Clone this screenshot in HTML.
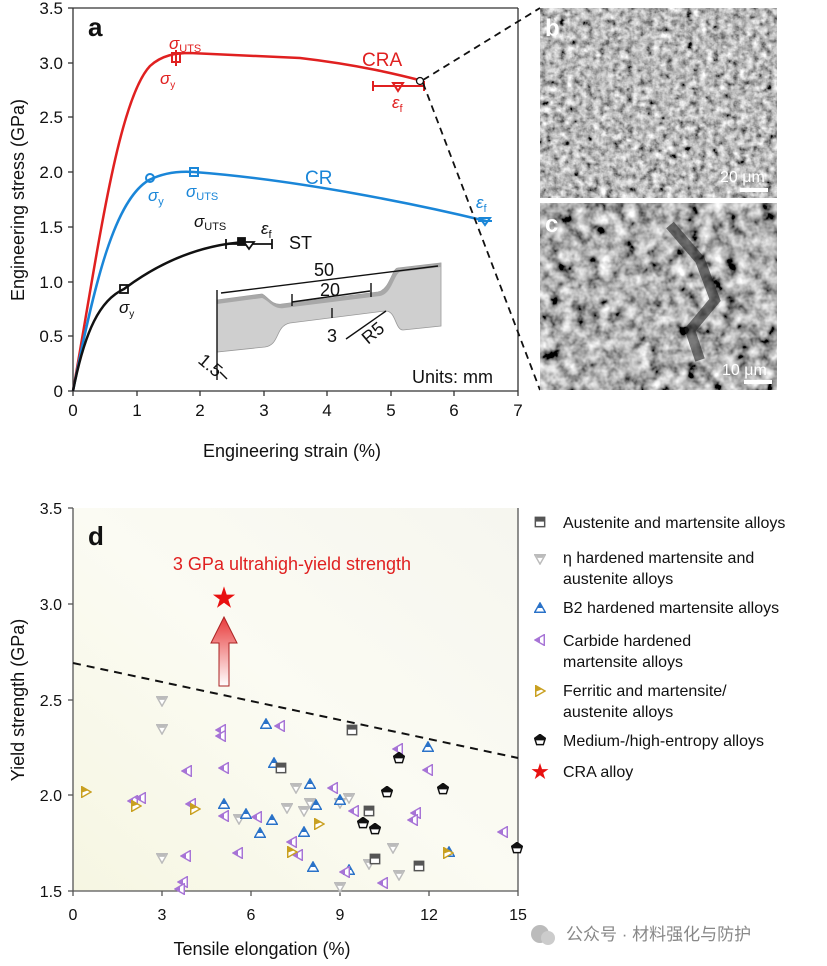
<!DOCTYPE html>
<html><head><meta charset="utf-8"><style>body{margin:0;background:#fff}svg{display:block;font-family:"Liberation Sans","Noto Sans CJK SC",sans-serif}</style></head><body>
<svg width="827" height="966" viewBox="0 0 827 966" xmlns="http://www.w3.org/2000/svg">
<defs>
<filter id="sem1" x="0" y="0" width="100%" height="100%"><feTurbulence type="fractalNoise" baseFrequency="0.15" numOctaves="3" seed="3"/><feColorMatrix type="matrix" values="0.33 0.33 0.33 0 0  0.33 0.33 0.33 0 0  0.33 0.33 0.33 0 0  0 0 0 0 1"/><feComponentTransfer><feFuncR type="linear" slope="2.4" intercept="-0.7"/><feFuncG type="linear" slope="2.4" intercept="-0.7"/><feFuncB type="linear" slope="2.4" intercept="-0.7"/></feComponentTransfer></filter>
<filter id="sem2" x="0" y="0" width="100%" height="100%"><feTurbulence type="fractalNoise" baseFrequency="0.08" numOctaves="3" seed="8"/><feColorMatrix type="matrix" values="0.33 0.33 0.33 0 0  0.33 0.33 0.33 0 0  0.33 0.33 0.33 0 0  0 0 0 0 1"/><feComponentTransfer><feFuncR type="linear" slope="2.8" intercept="-0.95"/><feFuncG type="linear" slope="2.8" intercept="-0.95"/><feFuncB type="linear" slope="2.8" intercept="-0.95"/></feComponentTransfer></filter>
<linearGradient id="bgd" x1="0" y1="1" x2="1" y2="0"><stop offset="0" stop-color="#f6f6e2"/><stop offset="0.5" stop-color="#fbfbf3"/><stop offset="1" stop-color="#f6f6ef"/></linearGradient>
<linearGradient id="arr" x1="0" y1="1" x2="0" y2="0"><stop offset="0" stop-color="#fff"/><stop offset="1" stop-color="#e83a3a"/></linearGradient>
<symbol id="tg" viewBox="-4.5 -4.5 9 9"><path d="M-4,-3.2 L4,-3.2 L0,3.8 Z" fill="#fff" stroke="#bbb" stroke-width="1.1"/><path d="M-3.2,-2.8 L3.2,-2.8 L2,-0.8 L-2,-0.8Z" fill="#bbb"/></symbol>
<symbol id="tb" viewBox="-4.5 -4.5 9 9"><path d="M-4,3.2 L4,3.2 L0,-3.8 Z" fill="#fff" stroke="#2a72c8" stroke-width="1.1"/><path d="M-2.1,0 L2.1,0 L0,-3.4Z" fill="#2a72c8"/></symbol>
<symbol id="tp" viewBox="-4.5 -4.5 9 9"><path d="M3.2,-4 L3.2,4 L-3.8,0 Z" fill="#fff" stroke="#a774d6" stroke-width="1.1"/><path d="M0,-2.3 L0,2.3 L-3.4,0Z" fill="#a774d6"/></symbol>
<symbol id="ty" viewBox="-4.5 -4.5 9 9"><path d="M-3.2,-4 L-3.2,4 L3.8,0 Z" fill="#fff" stroke="#c9a020" stroke-width="1.1"/><path d="M-3.2,-3.6 L-3.2,0.5 L2,-1.4Z" fill="#c9a020"/></symbol>
<symbol id="sq" viewBox="-4.5 -4.5 9 9"><rect x="-3.5" y="-3.5" width="7" height="7" fill="#fff" stroke="#555" stroke-width="1.1"/><rect x="-3.5" y="-3.5" width="7" height="3.2" fill="#555"/></symbol>
<symbol id="pt" viewBox="-4.5 -4.5 9 9"><path d="M0,-4.2 L4,-1.3 L2.5,3.5 L-2.5,3.5 L-4,-1.3Z" fill="#fff" stroke="#111" stroke-width="1.1"/><path d="M0,-4.2 L4,-1.3 L3.6,0.3 L-3.6,0.3 L-4,-1.3Z" fill="#111"/></symbol>
</defs>

<!-- Panel a -->
<g font-size="17" fill="#111">
<line x1="73" y1="8" x2="73" y2="391" stroke="#333" stroke-width="1.3"/>
<line x1="73" y1="391" x2="518" y2="391" stroke="#333" stroke-width="1.3"/>
<line x1="518" y1="8" x2="518" y2="391" stroke="#333" stroke-width="1.3"/>
<line x1="73" y1="8" x2="518" y2="8" stroke="#333" stroke-width="1.3"/>
<g stroke="#333" stroke-width="1.3">
<line x1="68" y1="391" x2="73" y2="391"/><line x1="68" y1="336" x2="73" y2="336"/><line x1="68" y1="282" x2="73" y2="282"/><line x1="68" y1="227" x2="73" y2="227"/><line x1="68" y1="172" x2="73" y2="172"/><line x1="68" y1="117" x2="73" y2="117"/><line x1="68" y1="63" x2="73" y2="63"/><line x1="68" y1="8" x2="73" y2="8"/>
<line x1="73" y1="391" x2="73" y2="396"/><line x1="137" y1="391" x2="137" y2="396"/><line x1="200" y1="391" x2="200" y2="396"/><line x1="264" y1="391" x2="264" y2="396"/><line x1="327" y1="391" x2="327" y2="396"/><line x1="391" y1="391" x2="391" y2="396"/><line x1="454" y1="391" x2="454" y2="396"/><line x1="518" y1="391" x2="518" y2="396"/>
</g>
<g text-anchor="end"><text x="63" y="397">0</text><text x="63" y="342">0.5</text><text x="63" y="288">1.0</text><text x="63" y="233">1.5</text><text x="63" y="178">2.0</text><text x="63" y="123">2.5</text><text x="63" y="69">3.0</text><text x="63" y="14">3.5</text></g>
<g text-anchor="middle"><text x="73" y="416">0</text><text x="137" y="416">1</text><text x="200" y="416">2</text><text x="264" y="416">3</text><text x="327" y="416">4</text><text x="391" y="416">5</text><text x="454" y="416">6</text><text x="518" y="416">7</text>
<text x="292" y="457" font-size="18">Engineering strain  (%)</text></g>
<text transform="translate(24,200) rotate(-90)" text-anchor="middle" font-size="18">Engineering stress  (GPa)</text>
<text x="88" y="36" font-size="26" font-weight="bold">a</text>
</g>
<path d="M73,391 C98,250 118,100 150,66 C162,55 176,53 190,53 L300,58 C360,65 400,75 423,81" fill="none" stroke="#e02020" stroke-width="2.5"/>
<path d="M73,391 C95,280 115,200 149,180 C165,172 180,171 194,172 C300,180 420,205 486,221" fill="none" stroke="#1a86d8" stroke-width="2.5"/>
<path d="M73,391 C85,330 100,300 124,289 C160,262 200,245 245,242" fill="none" stroke="#111" stroke-width="2.5"/>
<g stroke="#e02020" stroke-width="2" fill="none"><rect x="172" y="53" width="8" height="9"/><line x1="176" y1="50" x2="176" y2="66"/><line x1="373" y1="86" x2="424" y2="86"/><line x1="373" y1="81" x2="373" y2="91"/><line x1="424" y1="81" x2="424" y2="91"/><path d="M393,83 L403,83 L398,91Z"/></g>
<circle cx="420" cy="81" r="3.5" fill="#fff" stroke="#111" stroke-width="1.3"/>
<g fill="#e02020" font-size="17"><text x="362" y="66" font-size="19">CRA</text><text x="169" y="49" font-style="italic">σ<tspan font-size="11" dy="3" font-style="normal">UTS</tspan></text><text x="160" y="84" font-style="italic">σ<tspan font-size="10" dy="4" font-style="normal">y</tspan></text><text x="392" y="108" font-style="italic">ε<tspan font-size="11" dy="4" font-style="normal">f</tspan></text></g>
<g stroke="#1a86d8" stroke-width="2" fill="none"><circle cx="150" cy="178" r="4"/><rect x="190" y="168" width="8" height="8"/><line x1="478" y1="221" x2="492" y2="221"/><path d="M480,218 L490,218 L485,225Z"/></g>
<g fill="#1a86d8" font-size="17"><text x="305" y="184" font-size="19">CR</text><text x="148" y="201" font-style="italic">σ<tspan font-size="11" dy="4" font-style="normal">y</tspan></text><text x="186" y="197" font-style="italic">σ<tspan font-size="11" dy="3" font-style="normal">UTS</tspan></text><text x="476" y="208" font-style="italic">ε<tspan font-size="11" dy="4" font-style="normal">f</tspan></text></g>
<g stroke="#111" stroke-width="1.8" fill="none"><rect x="120" y="285" width="8" height="8"/><rect x="238" y="238" width="7" height="7" fill="#111"/><line x1="226" y1="244" x2="272" y2="244"/><line x1="226" y1="239" x2="226" y2="249"/><line x1="272" y1="239" x2="272" y2="249"/><path d="M244,242 L254,242 L249,249Z" fill="#fff"/></g>
<g fill="#111" font-size="17"><text x="289" y="249" font-size="18">ST</text><text x="194" y="227" font-style="italic">σ<tspan font-size="11" dy="3" font-style="normal">UTS</tspan></text><text x="261" y="234" font-style="italic">ε<tspan font-size="11" dy="4" font-style="normal">f</tspan></text><text x="119" y="313" font-style="italic">σ<tspan font-size="10" dy="4" font-style="normal">y</tspan></text></g>
<path d="M217,300 L262,294 C268,297 272,306 282,304 L378,292 C390,290 392,268 398,268 L441,263 L441,326 L403,330 C395,330 396,310 385,311 L290,323 C275,326 280,345 265,347 L217,352Z" fill="#cfcfcf" stroke="#999" stroke-width="0.8"/>
<path d="M217,300 L262,294 C268,297 272,306 282,304 L378,292 C390,290 392,268 398,268 L441,263 L441,267 L400,272 C394,274 392,294 380,296 L284,308 C274,310 268,300 262,298 L217,304Z" fill="#a8a8a8"/>
<g stroke="#111" stroke-width="1.4" fill="none"><line x1="221" y1="293" x2="438" y2="266"/><line x1="292" y1="302" x2="370" y2="291"/><line x1="332" y1="308" x2="332" y2="318"/><line x1="346" y1="339" x2="386" y2="311"/><line x1="217" y1="290" x2="217" y2="380"/><line x1="371" y1="283" x2="371" y2="297"/><line x1="292" y1="294" x2="292" y2="306"/><line x1="220" y1="372" x2="227" y2="379"/></g>
<g font-size="18" fill="#111"><text x="314" y="276">50</text><text x="320" y="296">20</text><text x="327" y="342">3</text><text transform="translate(368,345) rotate(-40)">R5</text><text transform="translate(197,362) rotate(40)">1.5</text><text x="412" y="383">Units: mm</text></g>
<line x1="423" y1="80" x2="540" y2="8" stroke="#111" stroke-width="1.8" stroke-dasharray="7,5"/>
<line x1="423" y1="83" x2="540" y2="390" stroke="#111" stroke-width="1.8" stroke-dasharray="7,5"/>
<rect x="540" y="8" width="237" height="190" fill="#6e6e6e"/>
<rect x="540" y="8" width="237" height="190" filter="url(#sem1)"/>
<rect x="540" y="203" width="237" height="187" fill="#555"/>
<rect x="540" y="203" width="237" height="187" filter="url(#sem2)"/>
<path d="M670,225 L700,260 L715,300 L690,330 L700,360" stroke="#222" stroke-width="10" fill="none" opacity="0.6"/>
<text x="545" y="36" font-size="24" font-weight="bold" fill="#fff">b</text>
<text x="545" y="232" font-size="24" font-weight="bold" fill="#fff">c</text>
<text x="720" y="182" font-size="16" fill="#fff">20 μm</text><rect x="740" y="188" width="28" height="4" fill="#fff"/>
<text x="722" y="375" font-size="16" fill="#fff">10 μm</text><rect x="744" y="380" width="28" height="4" fill="#fff"/>

<!-- Panel d -->
<rect x="73" y="508" width="445" height="383" fill="url(#bgd)"/>
<g stroke="#555" stroke-width="1.3"><line x1="73" y1="508" x2="73" y2="891"/><line x1="73" y1="891" x2="518" y2="891"/><line x1="518" y1="508" x2="518" y2="891"/>
<line x1="68" y1="891" x2="73" y2="891"/><line x1="68" y1="795" x2="73" y2="795"/><line x1="68" y1="700" x2="73" y2="700"/><line x1="68" y1="604" x2="73" y2="604"/><line x1="68" y1="508" x2="73" y2="508"/>
<line x1="73" y1="891" x2="73" y2="896"/><line x1="162" y1="891" x2="162" y2="896"/><line x1="251" y1="891" x2="251" y2="896"/><line x1="340" y1="891" x2="340" y2="896"/><line x1="429" y1="891" x2="429" y2="896"/><line x1="518" y1="891" x2="518" y2="896"/></g>
<g font-size="16" fill="#111" text-anchor="end"><text x="62" y="897">1.5</text><text x="62" y="801">2.0</text><text x="62" y="706">2.5</text><text x="62" y="610">3.0</text><text x="62" y="514">3.5</text></g>
<g font-size="16" fill="#111" text-anchor="middle"><text x="73" y="920">0</text><text x="162" y="920">3</text><text x="251" y="920">6</text><text x="340" y="920">9</text><text x="429" y="920">12</text><text x="518" y="920">15</text><text x="262" y="955" font-size="18">Tensile elongation (%)</text></g>
<text transform="translate(24,700) rotate(-90)" text-anchor="middle" font-size="18" fill="#111">Yield strength (GPa)</text>
<text x="88" y="545" font-size="26" font-weight="bold" fill="#111">d</text>
<text x="292" y="570" font-size="18" fill="#e02020" text-anchor="middle">3 GPa ultrahigh-yield strength</text>
<line x1="73" y1="663" x2="518" y2="758" stroke="#111" stroke-width="2" stroke-dasharray="8,6"/>
<path d="M219,686 L219,643 L211,643 L224,617 L237,643 L229,643 L229,686Z" fill="url(#arr)" stroke="#a22" stroke-width="1"/>
<text x="224" y="606" font-size="24" fill="#e81010" text-anchor="middle">★</text>
<g>
<use href="#tg" x="156" y="695" width="12" height="12"/><use href="#tg" x="156" y="723" width="12" height="12"/><use href="#tg" x="156" y="852" width="12" height="12"/><use href="#tg" x="290" y="782" width="12" height="12"/><use href="#tg" x="343" y="792" width="12" height="12"/><use href="#tg" x="281" y="802" width="12" height="12"/><use href="#tg" x="304" y="797" width="12" height="12"/><use href="#tg" x="298" y="805" width="12" height="12"/><use href="#tg" x="233" y="813" width="12" height="12"/><use href="#tg" x="387" y="842" width="12" height="12"/><use href="#tg" x="363" y="858" width="12" height="12"/><use href="#tg" x="393" y="869" width="12" height="12"/><use href="#tg" x="334" y="881" width="12" height="12"/><use href="#tg" x="334" y="797" width="12" height="12"/>
<use href="#tb" x="260" y="718" width="12" height="12"/><use href="#tb" x="268" y="757" width="12" height="12"/><use href="#tb" x="304" y="778" width="12" height="12"/><use href="#tb" x="218" y="798" width="12" height="12"/><use href="#tb" x="240" y="808" width="12" height="12"/><use href="#tb" x="266" y="814" width="12" height="12"/><use href="#tb" x="254" y="827" width="12" height="12"/><use href="#tb" x="298" y="826" width="12" height="12"/><use href="#tb" x="310" y="799" width="12" height="12"/><use href="#tb" x="334" y="794" width="12" height="12"/><use href="#tb" x="307" y="861" width="12" height="12"/><use href="#tb" x="343" y="864" width="12" height="12"/><use href="#tb" x="422" y="741" width="12" height="12"/><use href="#tb" x="443" y="846" width="12" height="12"/>
<use href="#tp" x="274" y="720" width="12" height="12"/><use href="#tp" x="215" y="724" width="12" height="12"/><use href="#tp" x="215" y="730" width="12" height="12"/><use href="#tp" x="181" y="765" width="12" height="12"/><use href="#tp" x="218" y="762" width="12" height="12"/><use href="#tp" x="127" y="795" width="12" height="12"/><use href="#tp" x="135" y="792" width="12" height="12"/><use href="#tp" x="185" y="798" width="12" height="12"/><use href="#tp" x="218" y="810" width="12" height="12"/><use href="#tp" x="251" y="811" width="12" height="12"/><use href="#tp" x="327" y="782" width="12" height="12"/><use href="#tp" x="348" y="805" width="12" height="12"/><use href="#tp" x="392" y="743" width="12" height="12"/><use href="#tp" x="422" y="764" width="12" height="12"/><use href="#tp" x="410" y="807" width="12" height="12"/><use href="#tp" x="407" y="814" width="12" height="12"/><use href="#tp" x="497" y="826" width="12" height="12"/><use href="#tp" x="286" y="836" width="12" height="12"/><use href="#tp" x="292" y="849" width="12" height="12"/><use href="#tp" x="232" y="847" width="12" height="12"/><use href="#tp" x="180" y="850" width="12" height="12"/><use href="#tp" x="177" y="876" width="12" height="12"/><use href="#tp" x="174" y="883" width="12" height="12"/><use href="#tp" x="377" y="877" width="12" height="12"/><use href="#tp" x="339" y="866" width="12" height="12"/>
<use href="#ty" x="80" y="786" width="12" height="12"/><use href="#ty" x="130" y="800" width="12" height="12"/><use href="#ty" x="189" y="803" width="12" height="12"/><use href="#ty" x="313" y="818" width="12" height="12"/><use href="#ty" x="286" y="846" width="12" height="12"/><use href="#ty" x="442" y="847" width="12" height="12"/>
<use href="#sq" x="346" y="724" width="12" height="12"/><use href="#sq" x="275" y="762" width="12" height="12"/><use href="#sq" x="363" y="805" width="12" height="12"/><use href="#sq" x="369" y="853" width="12" height="12"/><use href="#sq" x="413" y="860" width="12" height="12"/>
<use href="#pt" x="393" y="752" width="12" height="12"/><use href="#pt" x="381" y="786" width="12" height="12"/><use href="#pt" x="437" y="783" width="12" height="12"/><use href="#pt" x="357" y="817" width="12" height="12"/><use href="#pt" x="369" y="823" width="12" height="12"/><use href="#pt" x="511" y="842" width="12" height="12"/>
</g>
<g font-size="16" fill="#111">
<use href="#sq" x="534" y="516" width="12" height="12"/><text x="563" y="528">Austenite and martensite alloys</text>
<use href="#tg" x="534" y="553" width="12" height="12"/><text x="563" y="563">η hardened martensite and</text><text x="563" y="584">austenite alloys</text>
<use href="#tb" x="534" y="602" width="12" height="12"/><text x="563" y="613">B2 hardened martensite alloys</text>
<use href="#tp" x="534" y="634" width="12" height="12"/><text x="563" y="646">Carbide hardened</text><text x="563" y="667">martensite alloys</text>
<use href="#ty" x="534" y="685" width="12" height="12"/><text x="563" y="696">Ferritic and martensite/</text><text x="563" y="717">austenite  alloys</text>
<use href="#pt" x="534" y="734" width="12" height="12"/><text x="563" y="746">Medium-/high-entropy alloys</text>
<text x="540" y="778" font-size="18" fill="#e81010" text-anchor="middle">★</text><text x="563" y="777">CRA alloy</text>
</g>
<text x="566" y="940" font-size="17" fill="#888">公众号 · 材料强化与防护</text>
<circle cx="540" cy="934" r="9" fill="#bbb"/><circle cx="548" cy="938" r="7" fill="#ccc"/>
</svg>
</body></html>
